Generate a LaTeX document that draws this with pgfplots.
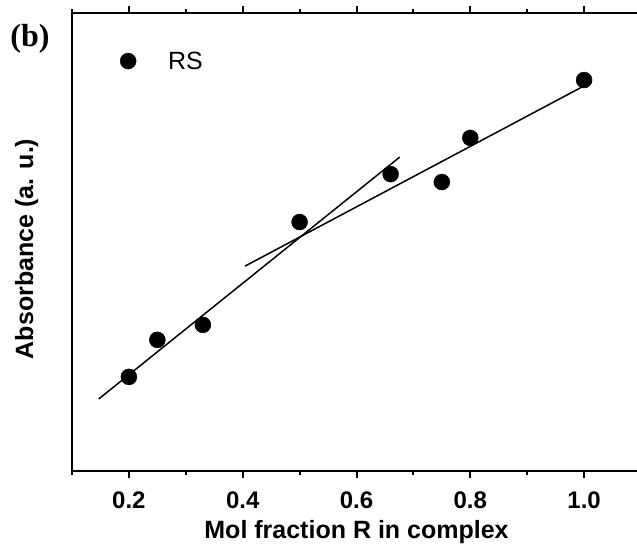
\documentclass[border=0pt]{standalone}
\usepackage{fontspec}
\setmainfont{Liberation Sans}
\newfontfamily\timesfont{Liberation Serif}
\usepackage{pgfplots}
\pgfplotsset{compat=1.18}
\begin{document}
\begin{tikzpicture}[x=1pt,y=1pt]
\begin{axis}[
  at={(72pt,79pt)}, anchor=south west,
  scale only axis, width=569pt, height=458pt,
  xmin=0.1, xmax=1.1, ymin=0, ymax=11,
  xtick={0.2,0.4,0.6,0.8,1.0},
  minor xtick={0.1,0.3,0.5,0.7,0.9,1.1},
  ytick=\empty, minor ytick={1,2,3,4,5,6,7,8,9,10},
  xtick pos=both, ytick pos=left,
  tick align=outside,
  major tick length=7pt, minor tick length=3.5pt,
  every tick/.style={black, line width=2pt},
  axis line style={line width=2.5pt},
  /pgf/number format/assume math mode=true,
  xticklabel style={/pgf/number format/.cd, fixed, fixed zerofill, precision=1},
  tick label style={font=\bfseries\fontsize{24}{28}\selectfont, anchor=base, yshift=-30pt},
  xlabel={Mol fraction R in complex},
  ylabel={Absorbance (a. u.)},
  label style={font=\bfseries\fontsize{25}{29}\selectfont},
  xlabel style={at={(axis description cs:0.5,-0.1463)}, anchor=base},
  ylabel style={at={(axis description cs:-0.0685,0.485)}, anchor=base},
  legend style={draw=none, fill=none, inner sep=0pt, at={(axis description cs:0.0843,0.895)}, anchor=west,
    font=\fontsize{25}{29}\selectfont},
  legend cell align=left,
  legend image code/.code={\path[draw=none, fill=none] (-8pt,-8pt) rectangle (38pt,8pt); \draw plot coordinates {(0pt,0pt)};},
]
\addplot[only marks, mark=*, mark size=8pt, black] coordinates {
  (0.2,2.26) (0.25,3.15) (0.33,3.51) (0.5,5.98) (0.66,7.13) (0.75,6.94) (0.8,8.0) (1.0,9.39)
};
\addlegendentry{RS}
\addplot[black, line width=1.5pt, forget plot] coordinates {(0.147,1.73) (0.676,7.54)};
\addplot[black, line width=1.5pt, forget plot] coordinates {(0.404,4.92) (1.0,9.25)};
\end{axis}
\node[font=\timesfont\bfseries\fontsize{32}{36}\selectfont] at (30pt,511pt) {(b)};
\pgfresetboundingbox
\path[use as bounding box] (0pt,0pt) rectangle (637pt,550pt);
\end{tikzpicture}
\end{document}
